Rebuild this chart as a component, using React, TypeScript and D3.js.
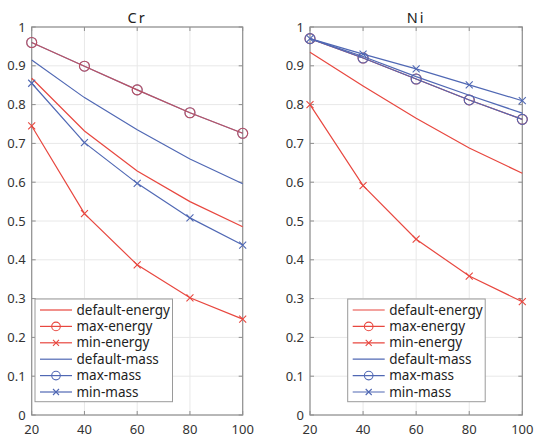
import React, { useRef, useEffect } from 'react'
import * as d3 from 'd3'

// shared x values
const xValues = [20, 40, 60, 80, 100]
const xTicks = [20, 40, 60, 80, 100]
const yTicks = [0, 0.1, 0.2, 0.3, 0.4, 0.5, 0.6, 0.7, 0.8, 0.9, 1]

const seriesNames = ['default-energy', 'max-energy', 'min-energy', 'default-mass', 'max-mass', 'min-mass']

// Cr
const crDefaultEnergy = [0.868, 0.732, 0.629, 0.55, 0.485]
const crMaxEnergy = [0.96, 0.899, 0.838, 0.779, 0.726]
const crMinEnergy = [0.745, 0.519, 0.387, 0.302, 0.247]
const crDefaultMass = [0.915, 0.818, 0.735, 0.66, 0.596]
const crMaxMass = [0.96, 0.899, 0.838, 0.779, 0.726]
const crMinMass = [0.855, 0.702, 0.597, 0.508, 0.438]

// Ni
const niDefaultEnergy = [0.935, 0.848, 0.765, 0.688, 0.623]
const niMaxEnergy = [0.97, 0.92, 0.866, 0.812, 0.762]
const niMinEnergy = [0.8, 0.591, 0.453, 0.358, 0.292]
const niDefaultMass = [0.97, 0.924, 0.872, 0.824, 0.778]
const niMaxMass = [0.97, 0.92, 0.866, 0.812, 0.762]
const niMinMass = [0.97, 0.93, 0.892, 0.851, 0.81]

const RED = '#e8473f'
const BLUE = '#5068b4'
const FONT = '"Noto Sans", "Open Sans", sans-serif'

const styles = {
	'default-energy': { color: RED, marker: 'none' },
	'max-energy': { color: RED, marker: 'circle' },
	'min-energy': { color: RED, marker: 'cross' },
	'default-mass': { color: BLUE, marker: 'none' },
	'max-mass': { color: BLUE, marker: 'circle' },
	'min-mass': { color: BLUE, marker: 'cross' },
}

const panels = [
	{
		title: 'Cr',
		left: 31.7,
		right: 242.7,
		legendX: 35,
		topSeries: 'max-energy',
		data: [crDefaultEnergy, crMaxEnergy, crMinEnergy, crDefaultMass, crMaxMass, crMinMass],
	},
	{
		title: 'Ni',
		left: 310,
		right: 522.3,
		legendX: 347.7,
		topSeries: 'max-mass',
		data: [niDefaultEnergy, niMaxEnergy, niMinEnergy, niDefaultMass, niMaxMass, niMinMass],
	},
]

const drawMarker = (g, type, x, y, color, r = 5) => {
	if (type === 'circle') {
		g.append('circle').attr('cx', x).attr('cy', y).attr('r', r).attr('fill', 'none').attr('stroke', color).attr('stroke-width', 1.1)
	} else if (type === 'cross') {
		const s = r * 0.7
		g.append('path')
			.attr('d', `M${x - s},${y - s}L${x + s},${y + s}M${x - s},${y + s}L${x + s},${y - s}`)
			.attr('stroke', color)
			.attr('stroke-width', 1.1)
	}
}

const App = () => {
	const svgRef = useRef()

	useEffect(() => {
		const width = 535
		const height = 436
		const top = 27
		const bottom = 415

		const svg = d3.select(svgRef.current)
		svg.selectAll('*').remove()
		svg.attr('width', width).attr('height', height)
		svg.append('rect').attr('width', width).attr('height', height).attr('fill', '#fff')

		const y = d3.scaleLinear().domain([0, 1]).range([bottom, top])

		panels.forEach(p => {
			const x = d3.scaleLinear().domain([20, 100]).range([p.left, p.right])
			const g = svg.append('g')

			// grid
			g.selectAll('.gx').data(xTicks).enter().append('line')
				.attr('x1', d => x(d)).attr('x2', d => x(d)).attr('y1', top).attr('y2', bottom)
				.attr('stroke', '#e8e8e8').attr('stroke-width', 1)
			g.selectAll('.gy').data(yTicks).enter().append('line')
				.attr('x1', p.left).attr('x2', p.right).attr('y1', d => y(d)).attr('y2', d => y(d))
				.attr('stroke', '#e8e8e8').attr('stroke-width', 1)

			// box + inward ticks
			g.append('rect')
				.attr('x', p.left).attr('y', top).attr('width', p.right - p.left).attr('height', bottom - top)
				.attr('fill', 'none').attr('stroke', '#8f8f8f').attr('stroke-width', 1.2)
			xTicks.forEach(t => {
				g.append('line').attr('x1', x(t)).attr('x2', x(t)).attr('y1', bottom).attr('y2', bottom - 4).attr('stroke', '#8f8f8f')
				g.append('line').attr('x1', x(t)).attr('x2', x(t)).attr('y1', top).attr('y2', top + 4).attr('stroke', '#8f8f8f')
			})
			yTicks.forEach(t => {
				g.append('line').attr('x1', p.left).attr('x2', p.left + 4).attr('y1', y(t)).attr('y2', y(t)).attr('stroke', '#8f8f8f')
				g.append('line').attr('x1', p.right).attr('x2', p.right - 4).attr('y1', y(t)).attr('y2', y(t)).attr('stroke', '#8f8f8f')
			})

			// tick labels
			g.selectAll('.xl').data(xTicks).enter().append('text')
				.attr('x', d => x(d)).attr('y', 433.5).attr('text-anchor', 'middle')
				.attr('font-family', FONT).attr('font-size', 13).attr('fill', '#333')
				.text(d => d)
			g.selectAll('.yl').data(yTicks).enter().append('text')
				.attr('x', p.left - 6).attr('y', d => y(d) + 4.5).attr('text-anchor', 'end')
				.attr('font-family', FONT).attr('font-size', 13).attr('fill', '#333')
				.text(d => d3.format('~g')(d))

			// title
			g.append('text')
				.attr('x', (p.left + p.right) / 2).attr('y', 22.5).attr('text-anchor', 'middle')
				.attr('font-family', FONT).attr('font-size', 14.5).attr('fill', '#222')
				.attr('letter-spacing', 2)
				.text(p.title)

			// series: top series drawn last
			const order = seriesNames.map((n, i) => i).filter(i => seriesNames[i] !== p.topSeries)
			order.push(seriesNames.indexOf(p.topSeries))
			const line = d3.line().x((d, i) => x(xValues[i])).y(d => y(d))
			order.forEach(i => {
				const name = seriesNames[i]
				const st = styles[name]
				const sg = g.append('g').attr('opacity', name === p.topSeries && name === 'max-energy' ? 0.7 : 1)
				sg.append('path').datum(p.data[i]).attr('d', line)
					.attr('fill', 'none').attr('stroke', st.color).attr('stroke-width', 1.2)
				p.data[i].forEach((v, j) => drawMarker(sg, st.marker, x(xValues[j]), y(v), st.color))
			})

			// legend
			const lx = p.legendX
			const ly = 299
			const lg = g.append('g')
			lg.append('rect').attr('x', lx).attr('y', ly).attr('width', 137.5).attr('height', 102.7)
				.attr('fill', '#fff').attr('stroke', '#9a9a9a').attr('stroke-width', 1)
			seriesNames.forEach((name, i) => {
				const st = styles[name]
				const ry = ly + 11 + i * 16.4
				lg.append('line').attr('x1', lx + 5).attr('x2', lx + 37).attr('y1', ry).attr('y2', ry)
					.attr('stroke', st.color).attr('stroke-width', 1.2)
				drawMarker(lg, st.marker, lx + 21, ry, st.color, 4.3)
				lg.append('text').attr('x', lx + 41.5).attr('y', ry + 4.5)
					.attr('font-family', FONT).attr('font-size', 13.5).attr('fill', '#222')
					.text(name)
			})
		})
	}, [])

	return <svg ref={svgRef} style={{ position: 'absolute', left: 0, top: 0 }}></svg>
}

export default App
